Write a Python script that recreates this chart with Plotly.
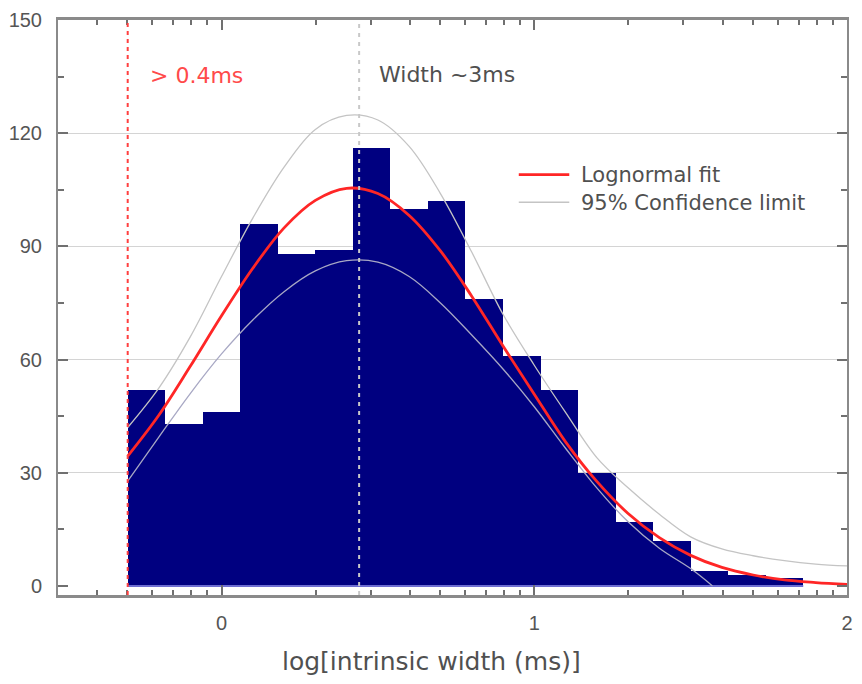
import math
import plotly.graph_objects as go

# Histogram of log10 intrinsic widths (ms): fixed-width bins starting at bin_start
bin_start = -0.30
bin_width = 0.12
counts = [52, 43, 46, 96, 88, 89, 116, 100, 102, 76, 61, 52, 30, 17, 12, 4, 3, 2]

# Lognormal fit and its 95% confidence band, sampled along log width
curve_x = [-0.3, -0.2, -0.1, 0.0, 0.1, 0.2, 0.3, 0.4, 0.5, 0.6, 0.7, 0.8,
           0.9, 1.0, 1.1, 1.2, 1.3, 1.4, 1.5, 1.6, 1.7, 1.8, 1.9, 2.0]
fit_y = [34.4, 45.3, 58.2, 71.6, 84.2, 94.9, 102.2, 105.4, 104.0, 98.2, 88.8, 76.8,
         63.6, 50.8, 38.2, 27.7, 19.2, 12.8, 8.1, 4.9, 2.9, 1.6, 0.9, 0.4]
upper_y = [42.0, 52.5, 66.0, 82.0, 97.5, 111.0, 121.0, 124.7, 123.5, 116.5, 104.0, 88.5,
           72.0, 58.5, 46.0, 34.0, 26.0, 19.0, 13.0, 9.8, 8.0, 6.7, 5.8, 5.3]
lower_x = [-0.3, -0.2, -0.1, 0.0, 0.1, 0.2, 0.3, 0.4, 0.5, 0.6, 0.7, 0.8,
           0.9, 1.0, 1.1, 1.2, 1.3, 1.4, 1.5, 1.57]
lower_y = [27.8, 39.5, 51.0, 61.5, 70.5, 78.0, 83.5, 86.2, 85.8, 82.0, 75.0, 66.5,
           57.5, 47.5, 36.5, 26.0, 17.0, 10.0, 4.6, 0.0]

# Reference markers (log10 ms)
cutoff_x = -0.30
peak_x = 0.44

# Axis ticks
x_major = [0, 1, 2]
x_minor_ms = [0.4, 0.5, 0.6, 0.7, 0.8, 0.9, 2, 3, 4, 5, 6, 7, 8, 9,
              20, 30, 40, 50, 60, 70, 80, 90]
y_major = [0, 30, 60, 90, 120, 150]
y_minor = [15, 45, 75, 105, 135]

edges = [bin_start + i * bin_width for i in range(len(counts) + 1)]
centers = [(edges[i] + edges[i + 1]) / 2 for i in range(len(counts))]

RED = "#ff2626"
GRAY_BAND = "#c4c4c4"
TEXT = "#505050"

fig = go.Figure()

fig.add_trace(go.Bar(
    x=centers, y=counts, width=bin_width,
    marker=dict(color="#000080", line=dict(width=0)),
    showlegend=False, hoverinfo="x+y",
))

# histogram baseline
fig.add_trace(go.Scatter(
    x=[edges[0], edges[-1]], y=[0, 0], mode="lines",
    line=dict(color="#6e6ed2", width=2), showlegend=False, hoverinfo="skip",
))

fig.add_trace(go.Scatter(
    x=lower_x, y=lower_y, mode="lines",
    line=dict(color="#a8a8c4", width=1.3, shape="spline", smoothing=1),
    showlegend=False,
))
fig.add_trace(go.Scatter(
    x=curve_x, y=upper_y, mode="lines",
    line=dict(color=GRAY_BAND, width=1.3, shape="spline", smoothing=1),
    showlegend=False,
))
fig.add_trace(go.Scatter(
    x=curve_x, y=fit_y, mode="lines",
    line=dict(color=RED, width=2.8, shape="spline", smoothing=1),
    showlegend=False,
))

# vertical markers: width cutoff and fitted peak
fig.add_shape(type="line", xref="x", yref="paper", x0=cutoff_x, x1=cutoff_x, y0=0, y1=1,
              line=dict(color="#ff4040", width=2, dash="4px,4px"), layer="above")
fig.add_shape(type="line", xref="x", yref="paper", x0=peak_x, x1=peak_x, y0=0, y1=1,
              line=dict(color="#c8c8c8", width=2, dash="4px,5px"), layer="above")

# legend
leg_x0, leg_x1, leg_tx = 0.584, 0.648, 0.6605
fig.add_shape(type="line", xref="paper", yref="paper", x0=leg_x0, x1=leg_x1, y0=0.731, y1=0.731,
              line=dict(color=RED, width=2.8))
fig.add_shape(type="line", xref="paper", yref="paper", x0=leg_x0, x1=leg_x1, y0=0.683, y1=0.683,
              line=dict(color=GRAY_BAND, width=1.5))

font_txt = "DejaVu Sans, Verdana, sans-serif"
annotations = [
    dict(x=leg_tx, y=0.731, text="Lognormal fit", xanchor="left", yanchor="middle",
         font=dict(family=font_txt, size=21, color=TEXT)),
    dict(x=leg_tx, y=0.681, text="95% Confidence limit", xanchor="left", yanchor="middle",
         font=dict(family=font_txt, size=21, color=TEXT)),
    dict(x=0.1143, y=0.903, text="&gt; 0.4ms", xanchor="left", yanchor="middle",
         font=dict(family=font_txt, size=22, color="#ff4a4a")),
    dict(x=0.4045, y=0.905, text="Width ~3ms", xanchor="left", yanchor="middle",
         font=dict(family=font_txt, size=22, color=TEXT)),
    dict(x=0.4736, y=-0.1155, text="log[intrinsic width (ms)]", xanchor="center", yanchor="middle",
         font=dict(family=font_txt, size=25, color=TEXT)),
]
for a in annotations:
    a.update(xref="paper", yref="paper", showarrow=False)

tick_font = dict(family="Liberation Sans, Arial, sans-serif", size=20, color="#555555")

fig.update_layout(
    width=862, height=684,
    margin=dict(l=57, r=9, t=15, b=89),
    paper_bgcolor="white", plot_bgcolor="white",
    bargap=0, showlegend=False,
    annotations=annotations,
    xaxis=dict(
        range=[math.log10(0.3), 2.0],
        tickmode="array", tickvals=x_major, ticktext=[str(v) for v in x_major],
        ticks="inside", ticklen=10, tickwidth=1.5, tickcolor="#707070",
        minor=dict(tickmode="array", tickvals=[math.log10(v) for v in x_minor_ms],
                   ticks="inside", ticklen=5, tickwidth=1.5, tickcolor="#707070", showgrid=False),
        showline=True, linecolor="#8a8a8a", linewidth=2.5, mirror="allticks",
        showgrid=False, zeroline=False, tickfont=tick_font, ticklabelstandoff=8,
    ),
    yaxis=dict(
        range=[-2.4, 150],
        tickmode="array", tickvals=y_major, ticktext=[str(v) for v in y_major],
        ticks="inside", ticklen=10, tickwidth=1.5, tickcolor="#707070",
        minor=dict(tickmode="array", tickvals=y_minor, ticks="inside", ticklen=6,
                   tickwidth=1.5, tickcolor="#707070", showgrid=False),
        showline=True, linecolor="#8a8a8a", linewidth=2, mirror="allticks",
        showgrid=True, gridcolor="#d4d4d4", gridwidth=1,
        zeroline=True, zerolinecolor="rgba(0,0,0,0)",
        tickfont=tick_font, ticklabelstandoff=10,
    ),
)

fig.write_html("out.html")
